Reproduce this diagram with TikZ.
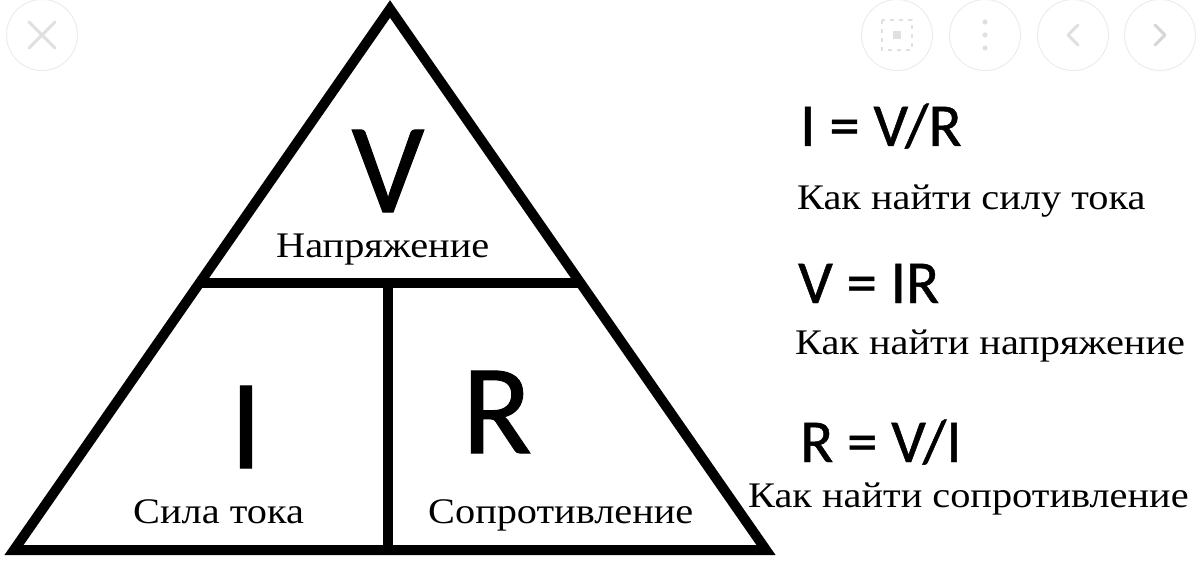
\documentclass[tikz,border=0pt]{standalone}
\usepackage{fontspec}
\setmainfont{Liberation Serif}
\newfontfamily\calib[FakeBold=0.8]{Carlito}
\newfontfamily\labfont[FakeStretch=1.12]{Liberation Serif}
\usetikzlibrary{calc}
\definecolor{uigray}{HTML}{ECECEC}
\definecolor{uiicon}{HTML}{E0E0E0}
\definecolor{uinext}{HTML}{D6D6D6}
\tikzset{
  tri/.style={line width=10pt, line join=miter, draw=black},
  big/.style={inner sep=0pt, font=\calib\fontsize{128}{130}\selectfont},
  frm/.style={inner sep=0pt, anchor=base west, font=\calib\fontsize{61}{64}\selectfont},
  lbl/.style={inner sep=0pt, anchor=base west, font=\labfont\fontsize{36}{40}\selectfont},
  uibtn/.style={circle, draw=uigray, line width=1pt, minimum size=71pt, inner sep=0pt},
  uiline/.style={draw=uiicon, line width=3pt, line cap=round},
}
\begin{document}
\begin{tikzpicture}[x=1pt,y=-1pt]
\useasboundingbox (0,0) rectangle (1200,575);
% faint UI buttons
\node[uibtn] (close) at (42,35) {};
\draw[uiline] ($(close.center)+(-13,-13)$) -- ($(close.center)+(13,13)$);
\draw[uiline] ($(close.center)+(-13,13)$) -- ($(close.center)+(13,-13)$);
\node[uibtn] (full) at (897,35) {};
\fill[uiicon] ($(full.center)+(-4,-4)$) rectangle ($(full.center)+(4,4)$);
\draw[uiicon, line width=1.5pt, dash pattern=on 4pt off 5pt] ($(full.center)+(-15,-15)$) rectangle ($(full.center)+(15,15)$);
\node[uibtn] (more) at (985,35) {};
\foreach \dy in {-13,0,13} \fill[uiicon] ($(more.center)+(0,\dy)$) circle (2.6);
\node[uibtn] (prev) at (1073,35) {};
\draw[uiline, line join=round] ($(prev.center)+(5,-10)$) -- ($(prev.center)+(-5,0)$) -- ($(prev.center)+(5,10)$);
\node[uibtn] (next) at (1160,35) {};
\draw[uiline, line join=round, draw=uinext] ($(next.center)+(-5,-10)$) -- ($(next.center)+(5,0)$) -- ($(next.center)+(-5,10)$);
% triangle
\coordinate (A) at (390,9);
\coordinate (B) at (14,550);
\coordinate (C) at (766,550);
\draw[tri] (A) -- (B) -- (C) -- cycle;
\coordinate (L) at ($(A)!0.5065!(B)$);
\coordinate (Rr) at ($(A)!0.5065!(C)$);
\draw[tri] (L) -- (Rr);
\coordinate (M) at (388,283);
\coordinate (N) at (388,550);
\draw[tri] (M) -- (N);
% letters
\node[big, anchor=base] (v) at (388,212) {V};
\node[big, anchor=base] (i) at (246,468) {I};
\node[big, anchor=base] (r) at (497,453) {R};
\node[lbl] (nap) at (276,257) {Напряжение};
\node[lbl] (sila) at (133,523) {Сила тока};
\node[lbl] (sopr) at (428,523) {Сопротивление};
% formulas
\node[frm] (f1) at (800,146) {I = V/R};
\node[lbl] (t1) at (797,209) {Как найти силу тока};
\node[frm] (f2) at (798,303) {V = IR};
\node[lbl] (t2) at (795,354) {Как найти напряжение};
\node[frm] (f3) at (800,462) {R = V/I};
\node[lbl] (t3) at (748,507) {Как найти сопротивление};
\end{tikzpicture}
\end{document}
